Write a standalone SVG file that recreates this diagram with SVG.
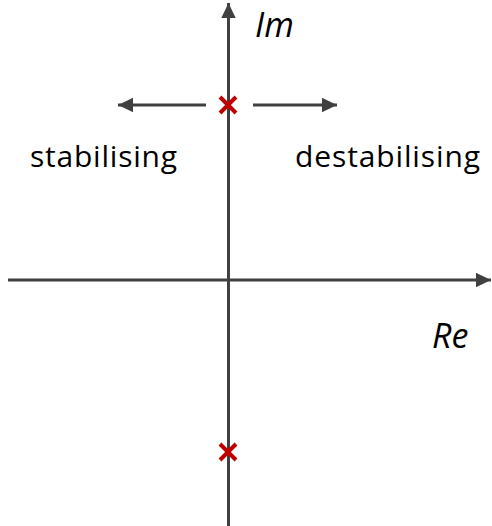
<svg xmlns="http://www.w3.org/2000/svg" width="492" height="526" viewBox="0 0 492 526">
<defs>
<marker id="ah" markerWidth="6" markerHeight="6" refX="5" refY="2.4" orient="auto" markerUnits="strokeWidth"><path d="M0,0 L5,2.4 L0,4.8 z" fill="#404040"/></marker>
<style>
.ax{stroke:#404040;stroke-width:3;fill:none}
.x{stroke:#C00000;stroke-width:4;stroke-linecap:butt}
.t{font-family:"Open Sans","Liberation Sans",sans-serif;font-size:30px;fill:#000}
.i{font-style:italic;font-size:34px}
</style>
</defs>
<g id="connectors">
<line class="ax" x1="228.5" y1="526" x2="228.5" y2="3" marker-end="url(#ah)"/>
<line class="ax" x1="8" y1="280" x2="491" y2="280" marker-end="url(#ah)"/>
<line class="ax" x1="206" y1="105" x2="118" y2="105" marker-end="url(#ah)"/>
<line class="ax" x1="253" y1="105" x2="337" y2="105" marker-end="url(#ah)"/>
</g>
<g id="pole1"><path class="x" d="M220,97 L236,113 M236,97 L220,113"/></g>
<g id="pole2"><path class="x" d="M220,444 L236,460 M236,444 L220,460"/></g>
<g id="label-im"><text class="t i" x="255" y="37">Im</text></g>
<g id="label-re"><text class="t i" x="432" y="348">Re</text></g>
<g id="label-stab"><text class="t" x="30" y="167" textLength="147" lengthAdjust="spacing">stabilising</text></g>
<g id="label-destab"><text class="t" x="295" y="167" textLength="185" lengthAdjust="spacing">destabilising</text></g>
</svg>
